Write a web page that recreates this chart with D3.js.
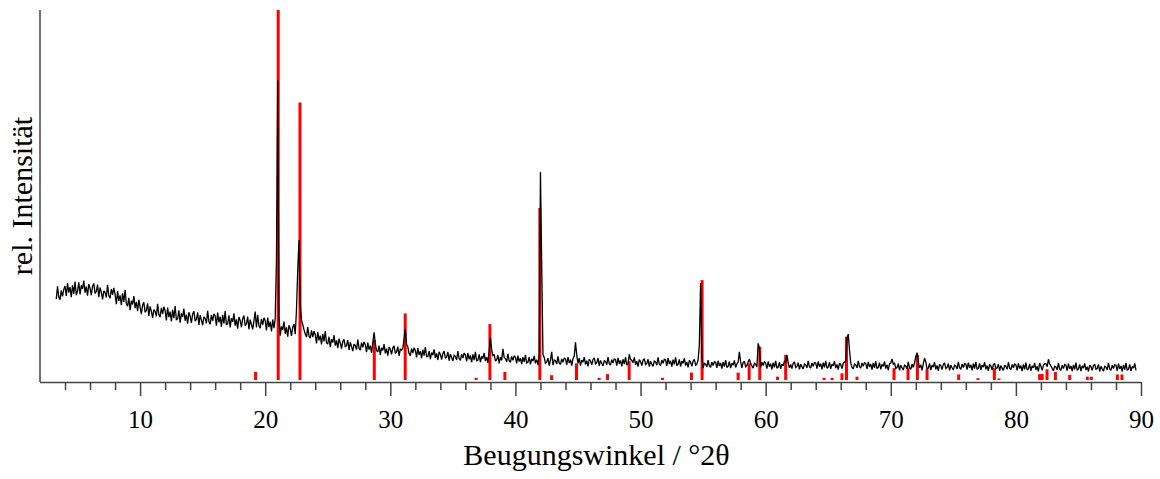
<!DOCTYPE html>
<html>
<head>
<meta charset="utf-8">
<script src="https://cdn.jsdelivr.net/npm/d3@7"></script>
<style>
  html, body { margin: 0; padding: 0; background: #fff; overflow: hidden; }
  svg { display: block; }
  text { font-family: "Liberation Serif", "Times New Roman", serif; fill: #000; }
</style>
</head>
<body>
<svg id="chart" width="1160" height="479"></svg>
<script>
// ---------- DATA ----------
// measured diffractogram: start angle, step (°2θ) and intensities (rel. units)
const scanStart = 3.3;
const scanStep = 0.1;
const intensity = [
  21.9, 25.3, 22.4, 21.7, 24.2, 22.6, 24.5,
  25.4, 22.7, 26.2, 23.6, 25.1, 22.4, 25.6, 23.3, 26.6, 22.9,
  24.1, 26.4, 23.1, 25.6, 24.6, 26.9, 23.6, 25.3, 22.8, 25.9,
  24.8, 22.9, 25.3, 26.1, 23.4, 23.9, 25.8, 22.4, 25.0, 23.7,
  21.8, 24.1, 23.7, 22.3, 25.7, 22.8, 22.1, 24.6, 23.0, 24.9,
  23.2, 20.5, 24.0, 21.4, 22.9, 20.2, 23.4, 21.1, 24.4, 20.7,
  19.9, 22.2, 18.9, 21.4, 20.4, 22.7, 19.4, 21.1, 18.6, 21.7,
  19.7, 17.8, 20.2, 21.0, 18.3, 18.8, 20.7, 17.3, 19.9, 18.6,
  16.7, 19.0, 18.6, 17.2, 20.6, 17.7, 17.0, 19.5, 17.9, 19.8,
  18.8, 16.1, 19.6, 17.0, 18.5, 15.8, 19.0, 16.7, 20.0, 16.3,
  16.5, 18.8, 15.5, 18.0, 17.0, 19.3, 16.0, 17.7, 15.2, 18.3,
  17.3, 15.4, 17.8, 18.6, 15.9, 16.4, 18.3, 14.9, 17.5, 16.2,
  14.8, 17.1, 16.7, 15.3, 18.7, 15.8, 15.1, 17.6, 16.0, 17.9,
  17.4, 14.7, 18.2, 15.6, 17.1, 14.4, 17.6, 15.3, 18.6, 14.9,
  15.2, 17.5, 14.2, 16.7, 15.7, 18.0, 14.7, 16.4, 13.9, 17.0,
  16.1, 14.2, 16.6, 17.4, 14.7, 15.2, 17.1, 13.7, 16.3, 15.0,
  13.7, 16.0, 18.5, 14.2, 17.6, 14.7, 14.0, 16.5, 14.9, 16.8,
  16.1, 13.4, 16.9, 14.3, 15.8, 13.1, 16.3, 14.0, 16.6, 32.4,
  81.0, 17.2, 12.0, 14.5, 13.5, 15.8, 12.5, 14.2, 11.7, 14.8,
  13.8, 11.9, 14.3, 15.1, 12.4, 18.9, 29.7, 37.8, 20.5, 16.2,
  15.0, 13.6, 12.4, 11.6, 14.3, 11.9, 11.3, 13.4, 11.6, 13.2,
  12.3, 9.9, 13.0, 10.7, 12.0, 9.6, 12.5, 10.4, 13.2, 10.0,
  9.7, 11.7, 8.9, 11.0, 10.1, 12.1, 9.3, 10.7, 8.6, 11.2,
  10.0, 8.5, 10.4, 11.0, 8.9, 9.3, 10.8, 8.1, 10.2, 9.1,
  7.8, 9.7, 9.3, 8.2, 10.9, 8.6, 8.1, 10.1, 8.8, 10.3,
  9.5, 7.5, 10.1, 8.2, 9.3, 7.3, 10.1, 12.9, 9.9, 7.9,
  7.6, 9.3, 6.8, 8.7, 8.0, 9.7, 7.2, 8.5, 6.6, 8.9,
  8.3, 6.9, 8.7, 9.2, 7.2, 7.6, 9.0, 6.5, 8.4, 8.1,
  8.6, 11.2, 13.8, 9.6, 8.9, 7.1, 6.6, 8.5, 7.3, 8.7,
  8.0, 6.1, 8.6, 6.8, 7.8, 5.9, 8.2, 6.6, 8.9, 6.3,
  6.3, 7.9, 5.6, 7.4, 6.7, 8.3, 6.0, 7.2, 5.4, 7.6,
  6.9, 5.5, 7.2, 7.8, 5.9, 6.2, 7.6, 5.2, 7.0, 6.1,
  5.1, 6.7, 6.4, 5.4, 7.8, 5.8, 5.3, 7.0, 5.9, 7.3,
  6.8, 5.0, 7.3, 5.6, 6.6, 4.8, 6.9, 5.4, 7.6, 5.2,
  5.4, 6.9, 4.8, 6.4, 5.8, 7.3, 5.1, 6.2, 4.6, 7.9,
  11.4, 8.2, 6.6, 6.9, 5.1, 5.4, 6.7, 4.5, 6.2, 5.3,
  8.4, 6.1, 5.8, 4.9, 7.1, 5.2, 4.8, 6.4, 5.3, 6.6,
  6.1, 4.5, 6.6, 5.0, 5.9, 4.3, 6.2, 4.9, 6.8, 4.6,
  4.8, 6.2, 4.2, 5.7, 5.1, 6.5, 4.5, 5.5, 4.0, 6.8,
  56.2, 31.0, 6.9, 6.1, 4.5, 4.8, 5.9, 3.9, 5.4, 7.6,
  4.0, 5.4, 5.2, 4.3, 6.4, 4.6, 4.2, 5.7, 4.8, 5.9,
  5.7, 4.1, 6.2, 4.6, 5.5, 3.9, 5.8, 6.4, 10.2, 6.8,
  4.5, 5.9, 3.9, 5.4, 4.8, 6.2, 4.2, 5.2, 3.7, 5.6,
  5.2, 4.1, 5.5, 6.0, 4.4, 4.7, 5.9, 3.8, 5.3, 4.5,
  3.8, 5.2, 5.0, 4.1, 6.2, 4.4, 4.0, 5.5, 4.6, 5.7,
  5.5, 3.9, 6.0, 4.4, 5.3, 3.7, 5.6, 4.3, 6.2, 4.0,
  4.4, 7.0, 5.6, 5.3, 4.7, 6.1, 4.1, 5.1, 3.6, 5.5,
  5.0, 3.9, 5.3, 5.8, 4.2, 4.5, 5.6, 3.6, 5.1, 4.3,
  3.7, 5.1, 4.9, 4.0, 6.1, 4.3, 3.9, 5.4, 4.5, 5.6,
  5.4, 3.8, 5.9, 4.3, 5.2, 3.6, 5.5, 4.2, 6.1, 3.9,
  4.2, 5.6, 3.6, 5.1, 4.5, 5.9, 3.9, 4.9, 3.4, 5.3,
  4.8, 3.7, 5.1, 5.6, 4.0, 4.3, 5.4, 9.5, 26.2, 6.6,
  3.2, 4.5, 4.3, 3.5, 5.4, 3.8, 3.4, 4.8, 3.9, 4.9,
  4.8, 3.3, 5.2, 3.8, 4.6, 3.1, 4.9, 3.6, 5.4, 3.4,
  3.7, 5.0, 3.2, 4.5, 4.0, 5.3, 3.4, 4.4, 4.8, 7.6,
  4.9, 3.3, 4.7, 5.1, 3.6, 3.9, 4.9, 5.6, 4.5, 3.8,
  3.2, 4.5, 4.3, 3.5, 9.9, 8.6, 3.4, 4.8, 3.9, 4.9,
  4.6, 3.1, 5.0, 3.6, 4.4, 2.9, 4.7, 3.4, 5.2, 3.2,
  3.5, 4.8, 3.0, 4.3, 3.8, 5.1, 4.9, 6.8, 4.6, 3.3,
  4.2, 3.1, 4.5, 4.9, 3.4, 3.7, 4.7, 2.9, 4.3, 3.6,
  3.0, 4.3, 4.1, 3.3, 5.2, 3.6, 3.2, 4.6, 3.7, 4.7,
  4.6, 3.1, 5.0, 3.6, 4.4, 2.9, 4.7, 3.4, 5.2, 3.2,
  3.5, 4.8, 3.0, 4.3, 3.8, 5.1, 3.2, 4.2, 2.8, 4.5,
  4.2, 3.1, 4.5, 4.9, 5.0, 11.3, 12.4, 8.1, 4.6, 3.4,
  3.0, 4.3, 4.1, 3.3, 5.2, 3.6, 3.2, 4.6, 3.7, 4.7,
  4.5, 3.0, 4.9, 3.5, 4.3, 2.8, 4.6, 3.3, 5.1, 3.1,
  3.4, 4.7, 2.9, 4.2, 3.7, 5.0, 3.1, 4.1, 2.7, 4.4,
  4.6, 5.7, 4.2, 4.6, 3.1, 3.4, 4.4, 2.6, 4.0, 3.3,
  2.7, 4.0, 3.8, 3.0, 4.9, 3.3, 2.9, 4.3, 3.4, 4.6,
  6.3, 7.4, 4.9, 3.3, 4.1, 2.6, 4.4, 5.9, 4.9, 2.9,
  3.2, 4.5, 2.7, 4.0, 3.5, 4.8, 2.9, 3.9, 2.5, 4.2,
  3.9, 2.8, 4.2, 4.6, 3.1, 3.4, 4.4, 2.6, 4.0, 3.3,
  2.7, 4.0, 3.8, 3.0, 4.9, 3.3, 2.9, 4.3, 3.4, 4.4,
  4.3, 2.8, 4.7, 3.3, 4.1, 2.6, 4.4, 3.1, 4.9, 2.9,
  3.2, 4.5, 2.7, 4.0, 3.5, 4.8, 2.9, 3.9, 2.5, 4.2,
  3.8, 2.7, 4.1, 4.5, 3.0, 3.3, 4.3, 2.5, 3.9, 3.2,
  2.6, 3.9, 3.7, 2.9, 4.8, 3.2, 2.8, 4.2, 3.3, 4.3,
  4.1, 2.6, 4.5, 3.1, 3.9, 2.4, 4.2, 2.9, 4.7, 2.7,
  3.0, 4.3, 2.5, 3.8, 3.3, 4.6, 2.7, 3.7, 2.3, 4.6,
  3.7, 2.6, 4.0, 4.4, 4.4, 3.6, 5.6, 4.3, 3.8, 3.1,
  2.5, 3.7, 3.5, 2.7, 4.6, 3.0, 2.6, 4.0, 3.1, 4.2,
  4.0, 2.5, 4.4, 3.0, 3.8, 2.4, 4.1, 2.9, 4.7, 2.6,
  3.0, 4.2, 2.4, 3.8, 3.2, 4.5, 2.7, 3.6, 2.3, 4.0,
  3.6, 2.6, 3.9, 4.3, 2.9, 3.1, 4.2, 2.3, 3.7, 3.0,
  2.4, 3.7, 3.5, 2.7, 4.6, 3.0, 2.6, 4.0, 3.1, 4.1,
  4.0, 2.5, 4.4, 3.0, 3.8, 2.3, 4.1, 2.8, 4.6, 2.6,
  2.9, 4.2, 2.4, 3.7, 3.2, 4.5, 2.6
];

// reference pattern (red sticks): positions (°2θ) and relative intensities
const refAngles = [19.23, 21.04, 22.78, 28.72, 31.19, 36.86, 37.96, 39.16, 41.95, 42.89,
  44.88, 46.69, 47.36, 49.09, 51.75, 54.07, 54.92, 57.80, 58.68, 59.53,
  60.95, 61.60, 64.67, 65.31, 66.10, 66.46, 67.30, 70.26, 71.38, 72.13,
  72.90, 75.43, 76.97, 78.28, 78.65, 81.90, 82.10, 82.49, 83.16, 84.30,
  85.71, 86.03, 88.11, 88.48];
const refIntensity = [2.2, 100, 75, 10.8, 18, 0.6, 15.1, 2.2, 46.5, 1.3,
  4.5, 0.6, 1.6, 5.1, 0.6, 2.0, 27, 2.0, 4.5, 9.0,
  0.9, 6.8, 0.6, 0.6, 1.8, 11.7, 0.9, 3.2, 3.3, 6.8,
  2.9, 1.5, 0.5, 3.2, 0.4, 1.6, 1.6, 2.9, 2.2, 1.4,
  0.9, 0.9, 1.5, 1.5];

const xDomain = [2, 90];
const yDomain = [0, 100];
const majorTicks = [10, 20, 30, 40, 50, 60, 70, 80, 90];
const minorTicks = [4, 6, 8, 12, 14, 16, 18, 22, 24, 26, 28, 32, 34, 36, 38, 42, 44, 46, 48,
  52, 54, 56, 58, 62, 64, 66, 68, 72, 74, 76, 78, 82, 84, 86, 88];
const xTitle = "Beugungswinkel / °2θ";
const yTitle = "rel. Intensität";

// ---------- DRAW ----------
const svg = d3.select("#chart");
const M = { left: 40, right: 1141, top: 10, base: 380, axisY: 382 };

const x = d3.scaleLinear().domain(xDomain).range([M.left, M.right]);
const y = d3.scaleLinear().domain(yDomain).range([M.base, M.top]);

// red reference sticks
const refData = refAngles.map((a, i) => ({ a, v: refIntensity[i] }));
svg.append("g").selectAll("line").data(refData).join("line")
  .attr("x1", d => x(d.a)).attr("x2", d => x(d.a))
  .attr("y1", y(0)).attr("y2", d => y(d.v))
  .attr("stroke", "#ff0000").attr("stroke-width", 3);

// measured pattern
const scan = intensity.map((v, i) => [scanStart + i * scanStep, v]);
const line = d3.line().x(d => x(d[0])).y(d => y(d[1]));
svg.append("path").datum(scan)
  .attr("d", line)
  .attr("fill", "none")
  .attr("stroke", "#000")
  .attr("stroke-width", 1.3)
  .attr("stroke-linejoin", "miter")
  .attr("stroke-miterlimit", 2);

// y axis (plain line)
svg.append("line")
  .attr("x1", M.left).attr("x2", M.left)
  .attr("y1", M.top).attr("y2", M.axisY)
  .attr("stroke", "#444").attr("stroke-width", 1.5);

// x axis: minor ticks
const minorAxis = d3.axisBottom(x).tickValues(minorTicks).tickSize(8).tickFormat("");
const gMinor = svg.append("g").attr("transform", `translate(0,${M.axisY})`).call(minorAxis);
gMinor.select(".domain").remove();

// x axis: major ticks + labels
const majorAxis = d3.axisBottom(x).tickValues(majorTicks).tickSize(14).tickPadding(14)
  .tickFormat(d3.format("d"));
const gMajor = svg.append("g").attr("transform", `translate(0,${M.axisY})`).call(majorAxis);
gMajor.select(".domain").attr("d", `M${M.left},0.5H${M.right}`);

svg.selectAll(".tick line").attr("stroke", "#444").attr("stroke-width", 1.5);
gMajor.select(".domain").attr("stroke", "#444").attr("stroke-width", 1.5);
gMajor.selectAll(".tick text")
  .attr("font-family", "Liberation Serif, Times New Roman, serif")
  .attr("font-size", 25).attr("fill", "#000");

// axis titles
svg.append("text")
  .attr("x", (M.left + M.right) / 2 + 6).attr("y", 465)
  .attr("text-anchor", "middle")
  .attr("font-size", 30)
  .text(xTitle);

svg.append("text")
  .attr("transform", `translate(32,${(M.top + M.axisY) / 2}) rotate(-90)`)
  .attr("text-anchor", "middle")
  .attr("font-size", 30)
  .text(yTitle);
</script>
</body>
</html>
